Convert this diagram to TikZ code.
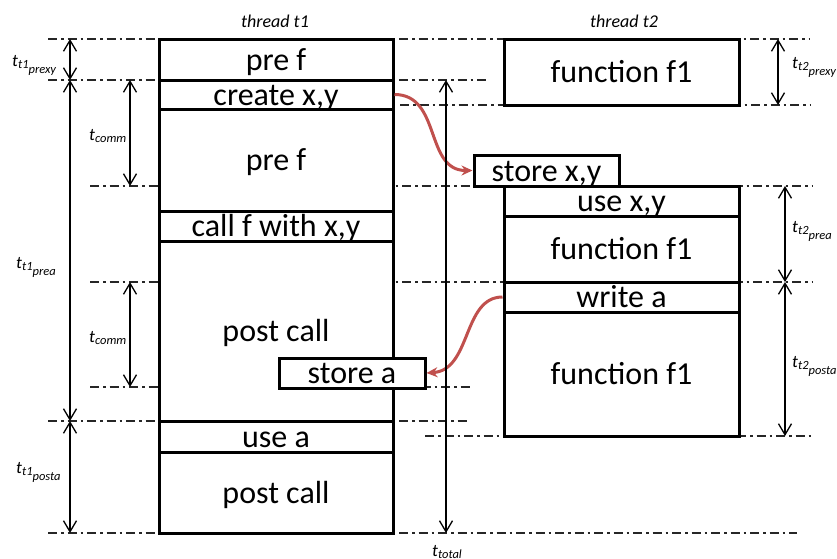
\documentclass[tikz,border=0pt]{standalone}
\usepackage{fontspec}
\setmainfont{Carlito}
\usetikzlibrary{arrows.meta}
\definecolor{flowred}{RGB}{192,80,77}
% time label: t with a subscript and an optional second-level subscript
\newcommand\dimlab[2]{{\fontsize{17.5}{20}\selectfont\itshape t\raisebox{-2.5pt}{\fontsize{12.5}{14}\selectfont #1\raisebox{-5pt}{#2}}}}
\begin{document}
\begin{tikzpicture}[x=1pt,y=-1pt,
  guide/.style={line width=1.3pt, black!85, dash pattern=on 9pt off 4pt on 2.5pt off 4pt},
  box/.style={draw, line width=3pt, fill=white, inner sep=0pt, text height=21pt, text depth=0pt,
              font=\fontsize{32}{36}\selectfont},
  dim/.style={line width=1.3pt, {Straight Barb[length=11pt,width=13pt]}-{Straight Barb[length=11pt,width=13pt]}},
  flow/.style={line width=3pt, draw=flowred, -{Stealth[length=11pt,width=10pt]}},
  lab/.style={anchor=base west, inner sep=0pt},
  head/.style={font=\fontsize{18}{20}\selectfont\itshape, anchor=base, inner sep=0pt}
]
\useasboundingbox (0,0) rectangle (837,558);

% horizontal time marks
\draw[guide] (48,39) -- (810,39);
\draw[guide] (48,80) -- (487,80);
\draw[guide] (400,105) -- (810,105);
\draw[guide] (90,186) -- (812,186);
\draw[guide] (90,282) -- (813,282);
\draw[guide] (90,387) -- (473,387);
\draw[guide] (48,421) -- (470,421);
\draw[guide] (425,436) -- (813,436);
\draw[guide] (48,533) -- (797,533);

% thread headings
\node[head] (h1) at (275,27) {thread t1};
\node[head] (h2) at (624,27) {thread t2};

% thread t1
\node[box, minimum width=234, minimum height=41]  (pref1)  at (276,59.5)  {pre f};
\node[box, minimum width=234, minimum height=29]  (create) at (276,94.5)  {create x,y};
\node[box, minimum width=234, minimum height=102] (pref2)  at (276,160)   {pre f};
\node[box, minimum width=234, minimum height=30]  (callf)  at (276,226)   {call f with x,y};
\node[box, minimum width=234, minimum height=180] (post1)  at (276,331)   {post call};
\node[box, minimum width=234, minimum height=31]  (usea)   at (276,436.5) {use a};
\node[box, minimum width=234, minimum height=81]  (post2)  at (276,492.5) {post call};
\node[box, minimum width=146, minimum height=30]  (storea) at (352,373)   {store a};

% thread t2
\node[box, minimum width=235, minimum height=66]  (f1a)     at (621.5,72)    {function f1};
\node[box, minimum width=145, minimum height=31]  (storexy) at (546.5,170.5) {store x,y};
\node[box, minimum width=235, minimum height=30]  (usexy)   at (621.5,201)   {use x,y};
\node[box, minimum width=235, minimum height=66]  (f1b)     at (621.5,249)   {function f1};
\node[box, minimum width=235, minimum height=30]  (writea)  at (621.5,297)   {write a};
\node[box, minimum width=235, minimum height=124] (f1c)     at (621.5,374)   {function f1};

% data passed between the threads
\draw[flow] (create.east) .. controls +(47,0) and +(-48,0) .. (storexy.west);
\draw[flow] (writea.west) .. controls +(-40,0) and +(45,-3) .. (storea.east);

% interval end points
\coordinate (L0) at (70,39);
\coordinate (L1) at (70,80);
\coordinate (L2) at (70,421);
\coordinate (L3) at (70,533);
\coordinate (C0) at (130,80);
\coordinate (C1) at (130,186);
\coordinate (C2) at (130,282);
\coordinate (C3) at (130,387);
\coordinate (R0) at (778,39);
\coordinate (R1) at (778,105);
\coordinate (S0) at (785,186);
\coordinate (S1) at (785,282);
\coordinate (S2) at (785,436);
\coordinate (T0) at (446,80);
\coordinate (T1) at (446,533);

% interval arrows
\draw[dim] (L0) -- (L1);
\draw[dim] (L1) -- (L2);
\draw[dim] (L2) -- (L3);
\draw[dim] (C0) -- (C1);
\draw[dim] (C2) -- (C3);
\draw[dim] (R0) -- (R1);
\draw[dim] (S0) -- (S1);
\draw[dim] (S1) -- (S2);
\draw[dim] (T0) -- (T1);

% interval labels
\node[lab] (lt1prexy) at (12,66)   {\dimlab{t1}{prexy}};
\node[lab] (lcomm1)   at (89,140)  {\dimlab{comm}{}};
\node[lab] (lt1prea)  at (16,268)  {\dimlab{t1}{prea}};
\node[lab] (lcomm2)   at (89,342)  {\dimlab{comm}{}};
\node[lab] (lt1posta) at (16,473)  {\dimlab{t1}{posta}};
\node[lab] (lt2prexy) at (792,68)  {\dimlab{t2}{prexy}};
\node[lab] (lt2prea)  at (792,232) {\dimlab{t2}{prea}};
\node[lab] (lt2posta) at (792,367) {\dimlab{t2}{posta}};
\node[lab] (ltotal)   at (432,556) {\dimlab{total}{}};
\end{tikzpicture}
\end{document}
